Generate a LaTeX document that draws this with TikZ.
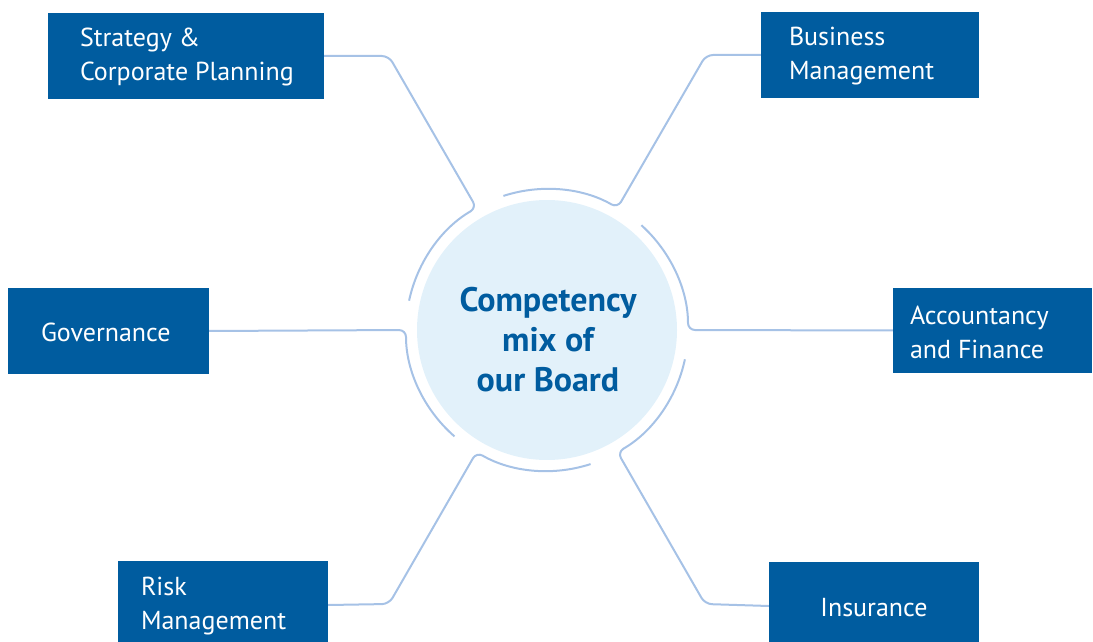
\documentclass[tikz,border=0pt]{standalone}
\usepackage{fontspec}
\setmainfont{PT Sans}
\usetikzlibrary{calc}
\definecolor{boxblue}{RGB}{0,92,159}
\definecolor{linkblue}{RGB}{166,194,230}
\definecolor{hubfill}{RGB}{226,241,250}
\begin{document}
\begin{tikzpicture}[x=1pt,y=1pt,
  box/.style={fill=boxblue, draw=none, inner sep=0pt},
  boxtext/.style={text=white, font=\fontsize{26}{34}\selectfont, align=left, inner sep=0pt, yshift=-1.5pt},
  link/.style={draw=linkblue, line width=2pt, rounded corners=7pt}]
\useasboundingbox (0,0) rectangle (1093,641);
\clip (0,0) rectangle (1093,641);
\coordinate (C) at (547,311);
\node[circle, fill=hubfill, minimum size=260pt, inner sep=0pt] (hub) at (C) {};
\node[text=boxblue, font=\bfseries\fontsize{34}{40}\selectfont, align=center, inner sep=0pt] (hubtext) at (548,301) {Competency\\mix of\\our Board};
% boxes
\node[box, minimum width=276pt, minimum height=86pt] (strat) at (186,585) {};
\node[box, minimum width=218pt, minimum height=86pt] (bus) at (870,586) {};
\node[box, minimum width=201pt, minimum height=86pt] (gov) at (108.5,310) {};
\node[box, minimum width=199pt, minimum height=85pt] (acc) at (992.5,310.5) {};
\node[box, minimum width=210pt, minimum height=88pt] (risk) at (223,36) {};
\node[box, minimum width=210pt, minimum height=88pt] (ins) at (874,35) {};
% texts
\node[boxtext, anchor=west] (strattext) at ([xshift=32pt]strat.west) {Strategy \&\\Corporate Planning};
\node[boxtext, anchor=west] (bustext) at ([xshift=28pt]bus.west) {Business\\Management};
\node[boxtext, anchor=west] (govtext) at ([xshift=33pt]gov.west) {Governance};
\node[boxtext, anchor=west] (acctext) at ([xshift=17pt]acc.west) {Accountancy\\and Finance};
\node[boxtext, anchor=west] (risktext) at ([xshift=23pt]risk.west) {Risk\\Management};
\node[boxtext] (instext) at (ins.center) {Insurance};
% connectors
\draw[link] (acc.west) -- ($(C)+(0:141)$) arc[start angle=0, end angle=48, radius=141];
\draw[link] (bus.west) -- (706,586) -- ($(C)+(60:141)$) arc[start angle=60, end angle=108, radius=141];
\draw[link] (strat.east) -- (388.8,585) -- ($(C)+(120:141)$) arc[start angle=120, end angle=168, radius=141];
\draw[link] (gov.east) -- ($(C)+(180:141)$) arc[start angle=180, end angle=229, radius=141];
\draw[link] (risk.east) -- (389,37) -- ($(C)+(240:141)$) arc[start angle=240, end angle=288, radius=141];
\draw[link] (ins.west) -- (705,37) -- ($(C)+(300:141)$) arc[start angle=300, end angle=348, radius=141];
\end{tikzpicture}
\end{document}
